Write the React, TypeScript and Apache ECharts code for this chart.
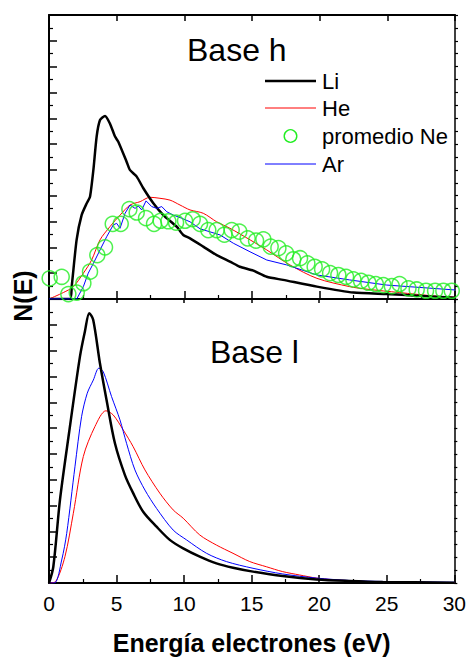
import React, { useEffect, useRef } from "react";
import * as echarts from "echarts";

// ---- Top panel (Base h) ----
const liTopX = [0, 1.55, 1.68, 2.04, 2.41, 2.78, 3.03, 3.28, 3.52, 3.77, 4.14, 4.5, 4.88, 5.12, 5.74, 5.99, 6.48, 6.97, 7.71, 8.45, 9.44, 9.92, 10.42, 11.4, 12.39, 13.37, 14.1, 15.1, 16.09, 17.3, 19.8, 22.5, 24.95, 27.2, 30];
const liTopY = [0, 0, 0.5, 2.29, 3.25, 3.7, 3.96, 5.0, 6.29, 6.93, 7.09, 6.8, 6.29, 6.09, 5.31, 4.99, 4.74, 4.29, 3.71, 3.25, 2.8, 2.48, 2.35, 2.03, 1.7, 1.45, 1.25, 1.1, 0.86, 0.74, 0.48, 0.25, 0.19, 0.13, 0.05];

const heTopX = [0, 1.06, 1.8, 2.54, 3.15, 3.77, 4.5, 5.25, 5.99, 6.73, 7.46, 8.2, 8.94, 9.68, 10.42, 11.4, 12.39, 13.37, 14.86, 16.09, 17.8, 19.8, 22.2, 23.5, 25.9, 28.4, 30];
const heTopY = [0, 0.25, 0.48, 1.0, 1.51, 2.29, 2.8, 3.25, 3.64, 3.77, 3.94, 3.9, 3.83, 3.64, 3.45, 3.32, 2.99, 2.74, 2.29, 1.9, 1.32, 0.8, 0.48, 0.38, 0.25, 0.12, 0.07];

const arTopX = [0, 1.5, 2.05, 2.54, 2.9, 3.28, 3.77, 4.26, 4.75, 5.0, 5.25, 5.62, 5.99, 6.36, 6.6, 6.85, 7.17, 7.59, 7.96, 8.33, 8.7, 9.19, 9.8, 10.42, 11.16, 11.9, 12.64, 13.62, 14.85, 16.09, 17.56, 19.8, 22.2, 24.95, 28.4, 30];
const arTopY = [0, 0, 0, 0.48, 1.0, 1.38, 1.9, 2.41, 2.87, 2.93, 2.74, 3.32, 3.64, 3.51, 3.6, 3.45, 3.8, 3.58, 3.51, 3.58, 3.38, 3.25, 3.13, 2.99, 2.72, 2.6, 2.48, 2.16, 1.83, 1.51, 1.32, 0.93, 0.74, 0.54, 0.41, 0.35];

const neX = [0.05, 0.94, 1.43, 2.05, 2.54, 3.03, 3.57, 4.14, 4.71, 5.3, 5.94, 6.48, 7.17, 7.76, 8.25, 8.82, 9.39, 10.05, 10.62, 11.16, 11.77, 12.39, 12.96, 13.5, 14.06, 14.68, 15.3, 15.84, 16.38, 16.95, 17.52, 18.05, 18.55, 19.09, 19.63, 20.18, 20.77, 21.38, 21.95, 22.49, 23.06, 23.6, 24.15, 24.71, 25.33, 25.9, 26.56, 27.17, 27.86, 28.53, 29.14, 29.76];
const neY = [0.8, 0.86, 0.19, 0.25, 0.61, 1.06, 1.7, 2.0, 2.91, 2.91, 3.48, 3.35, 3.13, 2.91, 3.03, 3.01, 2.96, 3.03, 3.09, 2.91, 2.67, 2.67, 2.49, 2.67, 2.61, 2.35, 2.26, 2.31, 2.03, 1.97, 1.77, 1.54, 1.58, 1.38, 1.25, 1.15, 1.0, 0.93, 0.86, 0.76, 0.7, 0.63, 0.58, 0.54, 0.5, 0.58, 0.41, 0.37, 0.32, 0.32, 0.32, 0.32];

// ---- Bottom panel (Base l) ----
const liBotX = [0, 0.32, 0.81, 1.48, 2.29, 2.66, 2.98, 3.27, 3.77, 4.26, 4.88, 5.62, 6.23, 6.97, 7.96, 8.94, 9.93, 11.16, 12.39, 13.62, 15.1, 17.3, 19.8, 22.2, 24.7, 30];
const liBotY = [0, 0.63, 3.21, 5.8, 8.77, 9.75, 10.45, 10.2, 8.51, 7.09, 5.41, 4.18, 3.48, 2.76, 2.18, 1.67, 1.34, 1.02, 0.76, 0.59, 0.44, 0.27, 0.14, 0.08, 0.04, 0.01];

const arBotX = [0, 0.44, 0.94, 1.31, 1.92, 2.41, 2.83, 3.28, 3.69, 4.01, 4.63, 5.25, 5.74, 6.36, 7.1, 7.96, 9.19, 10.18, 11.66, 13.13, 15.1, 17.3, 19.8, 22.2, 24.7, 30];
const arBotY = [0, 0.01, 0.89, 1.92, 4.5, 6.44, 7.35, 7.86, 8.32, 8.19, 7.22, 6.32, 5.41, 4.38, 3.6, 2.89, 2.05, 1.67, 1.15, 0.83, 0.57, 0.35, 0.19, 0.1, 0.06, 0.03];

const heBotX = [0, 0.5, 1.18, 1.8, 2.54, 3.4, 4.21, 4.75, 5.49, 6.23, 7.1, 8.2, 9.19, 9.93, 11.16, 12.39, 13.62, 14.86, 16.09, 17.3, 18.55, 19.8, 21.0, 23.5, 30];
const heBotY = [0, 0.06, 1.02, 2.7, 4.9, 6.06, 6.67, 6.51, 5.93, 5.28, 4.38, 3.48, 2.83, 2.51, 1.86, 1.47, 1.15, 0.83, 0.63, 0.44, 0.31, 0.19, 0.13, 0.06, 0.01];

const legendNames = ["Li", "He", "promedio Ne", "Ar"];
const panelTitles = ["Base h", "Base l"];
const xTitle = "Energía electrones (eV)";
const yTitle = "N(E)";

const zip = (xs: number[], ys: number[]) => xs.map((x, i) => [x, ys[i]]);

const FONT = "'Liberation Sans', Arial, Helvetica, sans-serif";
const BLACK = "#000";
const RED = "#ff0000";
const BLUE = "#0000ff";
const GREEN = "#22ee22";

export default function App() {
  const ref = useRef<HTMLDivElement>(null);
  useEffect(() => {
    if (!ref.current) return;
    const chart = echarts.init(ref.current, undefined, { renderer: "svg" });
    const gridL = 49, gridW = 406, gridH = 284, top1 = 15, top2 = 299;

    const xBase = (gridIndex: number, position: "top" | "bottom", labels: boolean, minor: boolean, extra: any = {}) => ({
      type: "value",
      gridIndex,
      position,
      min: 0,
      max: 30,
      interval: 5,
      axisLine: { show: true, onZero: false, lineStyle: { color: BLACK, width: 2 } },
      axisTick: { show: true, inside: true, length: 8, lineStyle: { color: BLACK, width: 1.5 } },
      minorTick: { show: minor, splitNumber: 2, length: 4, lineStyle: { color: BLACK, width: 1.2 } },
      splitLine: { show: false },
      axisLabel: labels
        ? { show: true, fontSize: 21, color: BLACK, fontFamily: FONT, margin: 10 }
        : { show: false },
      ...extra,
    });
    const yBase = (gridIndex: number, position: "left" | "right") => ({
      type: "value",
      gridIndex,
      position,
      min: 0,
      max: 11,
      interval: 1,
      axisLine: { show: true, onZero: false, lineStyle: { color: BLACK, width: position === "left" ? 2 : 1.5 } },
      axisTick: position === "left"
        ? { show: true, inside: true, length: 8, lineStyle: { color: BLACK, width: 1.5 } }
        : { show: true, inside: false, length: 3, lineStyle: { color: BLACK, width: 1.2 } },
      minorTick: position === "left"
        ? { show: true, splitNumber: 2, length: 4, lineStyle: { color: BLACK, width: 1.2 } }
        : { show: true, splitNumber: 2, length: 3, lineStyle: { color: BLACK, width: 1.2 } },
      splitLine: { show: false },
      axisLabel: { show: false },
    });

    const lineSeries = (name: string, data: number[][], color: string, width: number, axis: number, smooth: number | boolean, z: number) => ({
      type: "line",
      name,
      data,
      xAxisIndex: axis === 0 ? 0 : 2,
      yAxisIndex: axis === 0 ? 0 : 2,
      showSymbol: false,
      smooth,
      lineStyle: { color, width },
      itemStyle: { color },
      clip: true,
      z,
      silent: true,
    });

    const legendY = [81, 108, 136, 164];
    const legendGraphics: any[] = [];
    legendNames.forEach((n, i) => {
      const y = legendY[i];
      if (i === 2) {
        legendGraphics.push({
          type: "circle",
          shape: { cx: 290.5, cy: y, r: 6.3 },
          style: { fill: "none", stroke: GREEN, lineWidth: 1.4 },
        });
      } else {
        const c = i === 0 ? BLACK : i === 1 ? RED : BLUE;
        legendGraphics.push({
          type: "line",
          shape: { x1: 265, y1: y, x2: 316, y2: y },
          style: { stroke: c, lineWidth: i === 0 ? 2.5 : 1 },
        });
      }
      legendGraphics.push({
        type: "text",
        x: 322,
        y,
        style: { text: n, fill: BLACK, fontSize: 22, fontFamily: FONT, align: "left", verticalAlign: "middle" },
      });
    });

    chart.setOption({
      animation: false,
      backgroundColor: "#fff",
      grid: [
        { left: gridL, top: top1, width: gridW, height: gridH, containLabel: false },
        { left: gridL, top: top2, width: gridW, height: gridH, containLabel: false },
      ],
      xAxis: [
        xBase(0, "bottom", false, true),
        xBase(0, "top", false, false, { axisTick: { show: true, inside: true, length: 6, lineStyle: { color: BLACK, width: 1.5 } } }),
        xBase(1, "bottom", true, true, {
          name: xTitle,
          nameLocation: "middle",
          nameGap: 47,
          nameTextStyle: { fontSize: 25, fontWeight: "bold", color: BLACK, fontFamily: FONT },
        }),
        xBase(1, "top", false, false, { axisTick: { show: true, inside: true, length: 4, lineStyle: { color: BLACK, width: 1.5 } } }),
      ],
      yAxis: [yBase(0, "left"), yBase(0, "right"), yBase(1, "left"), yBase(1, "right")],
      series: [
        lineSeries(legendNames[0], zip(liTopX, liTopY), BLACK, 2.5, 0, 0.2, 3),
        lineSeries(legendNames[1], zip(heTopX, heTopY), RED, 1, 0, 0.3, 2),
        lineSeries(legendNames[3], zip(arTopX, arTopY), BLUE, 1, 0, false, 4),
        {
          type: "scatter",
          name: legendNames[2],
          data: zip(neX, neY),
          xAxisIndex: 0,
          yAxisIndex: 0,
          symbol: "circle",
          symbolSize: 15,
          itemStyle: { color: "rgba(0,0,0,0)", borderColor: GREEN, borderWidth: 1.5 },
          clip: true,
          z: 5,
          silent: true,
        },
        lineSeries(legendNames[1], zip(heBotX, heBotY), RED, 1, 1, 0.3, 2),
        lineSeries(legendNames[3], zip(arBotX, arBotY), BLUE, 1, 1, 0.3, 3),
        lineSeries(legendNames[0], zip(liBotX, liBotY), BLACK, 2.5, 1, 0.3, 4),
      ],
      graphic: [
        {
          type: "text",
          x: 187,
          y: 50,
          style: { text: panelTitles[0], fill: BLACK, fontSize: 32, fontFamily: FONT, align: "left", verticalAlign: "middle" },
        },
        {
          type: "text",
          x: 210,
          y: 352,
          style: { text: panelTitles[1], fill: BLACK, fontSize: 32, fontFamily: FONT, align: "left", verticalAlign: "middle" },
        },
        {
          type: "text",
          x: 23,
          y: 296,
          rotation: Math.PI / 2,
          style: { text: yTitle, fill: BLACK, fontSize: 25, fontWeight: "bold", fontFamily: FONT, align: "center", verticalAlign: "middle" },
        },
        ...legendGraphics,
      ],
    });
    return () => chart.dispose();
  }, []);
  return <div ref={ref} style={{ position: "absolute", left: 0, top: 0, width: 469, height: 658 }} />;
}
